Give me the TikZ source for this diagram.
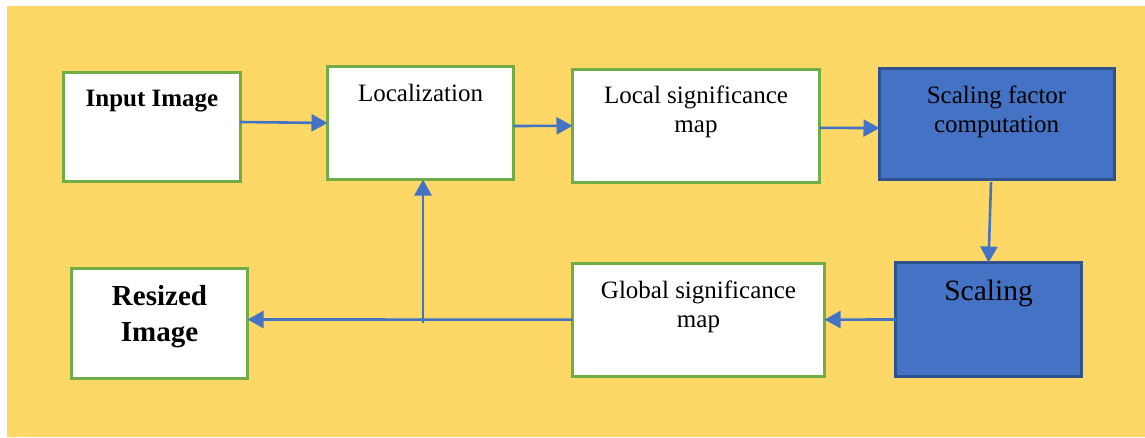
\documentclass[tikz,border=0pt]{standalone}
\usepackage{fontspec}
\setmainfont{Liberation Serif}
\usetikzlibrary{arrows.meta}
\definecolor{panel}{HTML}{FDD867}
\definecolor{frame}{HTML}{70AD47}
\definecolor{stepblue}{HTML}{4472C4}
\definecolor{stepedge}{HTML}{2F528F}
\definecolor{flow}{HTML}{4472C4}
\tikzset{
  whitebox/.style={draw=frame, fill=white, line width=3pt, rectangle, inner sep=0pt, outer sep=0pt},
  bluebox/.style={draw=stepedge, fill=stepblue, line width=3pt, rectangle, inner sep=0pt, outer sep=0pt},
  lbl/.style={inner sep=0pt, outer sep=0pt, align=center, font=\fontsize{25}{29.4}\selectfont, anchor=base},
  biglbl/.style={inner sep=0pt, outer sep=0pt, align=center, font=\fontsize{29}{36}\selectfont\bfseries, anchor=base},
  arr/.style={draw=flow, line width=2.6pt, -{Triangle[length=16pt,width=17pt]}}
}
\begin{document}
\begin{tikzpicture}[x=1pt,y=-1pt]
\useasboundingbox (0,0) rectangle (1145,437);
\fill[panel] (7,6) rectangle (1145,437);

% boxes
\node[whitebox, minimum width=176.5pt, minimum height=109.8pt] (in)  at (151.8,127) {};
\node[whitebox, minimum width=186pt,   minimum height=113pt]   (loc) at (420.5,123) {};
\node[whitebox, minimum width=247pt,   minimum height=112.5pt] (lsm) at (696,125.8) {};
\node[bluebox,  minimum width=235pt,   minimum height=110.5pt] (sfc) at (997,123.8) {};
\node[bluebox,  minimum width=186pt,   minimum height=114pt]   (sc)  at (988.5,319.5) {};
\node[whitebox, minimum width=252pt,   minimum height=113pt]   (gsm) at (698.5,319.6) {};
\node[whitebox, minimum width=176pt,   minimum height=110pt]   (rz)  at (159.5,323) {};

% labels (multi-line labels are placed by the baseline of their last line)
\node[lbl, font=\fontsize{25}{29.4}\selectfont\bfseries] (in-t) at (152,106) {Input Image};
\node[lbl] (loc-t) at (420.5,101.7) {Localization};
\node[lbl] (lsm-t) at (696,132.7) {Local significance\\map};
\node[lbl] (sfc-t) at (996.5,132.7) {Scaling factor\\computation};
\node[lbl, font=\fontsize{29.5}{34}\selectfont] (sc-t) at (988.5,300.7) {Scaling};
\node[lbl] (gsm-t) at (698.5,327.7) {Global significance\\map};
\node[biglbl] (rz-t) at (159.5,341.7) {Resized\\Image};

% connectors
\coordinate (j) at (423,323);
\draw[arr] ([yshift=5pt]in.east) -- (loc.west);
\draw[arr] ([yshift=-3pt]loc.east) -- (lsm.west);
\draw[arr] ([yshift=-2pt]lsm.east) -- ([yshift=-4.3pt]sfc.west);
\draw[arr] ([xshift=-6pt,yshift=-3pt]sfc.south) -- (sc.north);
\draw[arr] (sc.west) -- (gsm.east);
\draw[arr] (gsm.west) -- ([yshift=3.5pt]rz.east);
\draw[arr] (j) -- (j |- loc.south);
\end{tikzpicture}
\end{document}
